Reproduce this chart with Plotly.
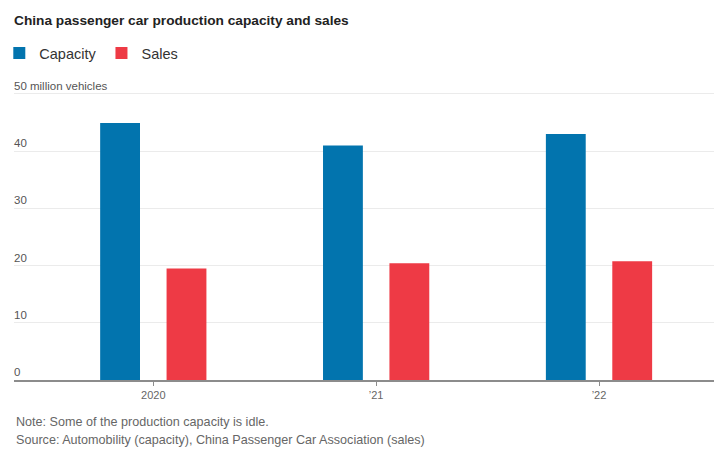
import plotly.graph_objects as go

years = ["2020", "’21", "’22"]
capacity = [44.9, 41.0, 43.0]
sales = [19.5, 20.4, 20.75]
y_ticks = [0, 10, 20, 30, 40, 50]
y_tick_labels = ["0", "10", "20", "30", "40", "50 million vehicles"]

FONT = "Liberation Sans, Arial, sans-serif"
BLUE = "#0274AE"
RED = "#EE3A45"

Y_MAX = 52.6
PX_PER_UNIT = 5.73
PLOT_BOTTOM = 380
PLOT_TOP = PLOT_BOTTOM - Y_MAX * PX_PER_UNIT
PH = PLOT_BOTTOM - PLOT_TOP

def py(pix):
    return (PLOT_BOTTOM - pix) / PH

fig = go.Figure()
fig.add_trace(go.Bar(x=years, y=capacity, name="Capacity", marker=dict(color=BLUE, line=dict(width=0))))
fig.add_trace(go.Bar(x=years, y=sales, name="Sales", marker=dict(color=RED, line=dict(width=0))))

fig.update_layout(
    width=723, height=462,
    margin=dict(l=14, r=9, t=PLOT_TOP, b=462 - PLOT_BOTTOM, autoexpand=False),
    paper_bgcolor="white", plot_bgcolor="white",
    font=dict(family=FONT, size=12, color="#666666"),
    barmode="group", bargap=0.404, bargroupgap=0.4,
    title=dict(text="<b>China passenger car production capacity and sales</b>",
               x=0, xref="container", xanchor="left", y=1 - 20 / 462, yref="container", yanchor="middle",
               pad=dict(l=14), font=dict(size=13.7, color="#222222", family=FONT)),
    showlegend=True,
    legend=dict(orientation="h", x=-0.021, xanchor="left", y=1 - 53 / 462, yref="container", yanchor="middle",
                font=dict(size=14.5, color="#333333", family=FONT), itemwidth=30, traceorder="normal",
                bgcolor="rgba(0,0,0,0)", tracegroupgap=0, itemclick=False),
    xaxis=dict(type="category", range=[-0.625, 2.516], showgrid=False, showline=True,
               linecolor="#8c8c8c", linewidth=1.5, ticks="outside", ticklen=4, tickcolor="#8c8c8c",
               tickfont=dict(size=11, color="#666666"), fixedrange=True),
    yaxis=dict(range=[0, Y_MAX], tickvals=y_ticks, ticktext=y_tick_labels, showgrid=True,
               gridcolor="#ebebeb", gridwidth=1, zeroline=False, showline=False, ticks="",
               ticklabelposition="inside top", ticklabelstandoff=-3,
               tickfont=dict(size=11.5, color="#555555"), fixedrange=True),
)

fig.add_annotation(text="Note: Some of the production capacity is idle.", xref="paper", yref="paper",
                   x=0, y=py(422), xanchor="left", yanchor="middle", showarrow=False,
                   font=dict(size=12.6, color="#666666", family=FONT))
fig.add_annotation(text="Source: Automobility (capacity), China Passenger Car Association (sales)", xref="paper",
                   yref="paper", x=0, y=py(440), xanchor="left", yanchor="middle", showarrow=False,
                   font=dict(size=12.6, color="#666666", family=FONT))

fig.write_html("out.html", config={"displayModeBar": False},
               post_script="document.body.style.margin='0';")
